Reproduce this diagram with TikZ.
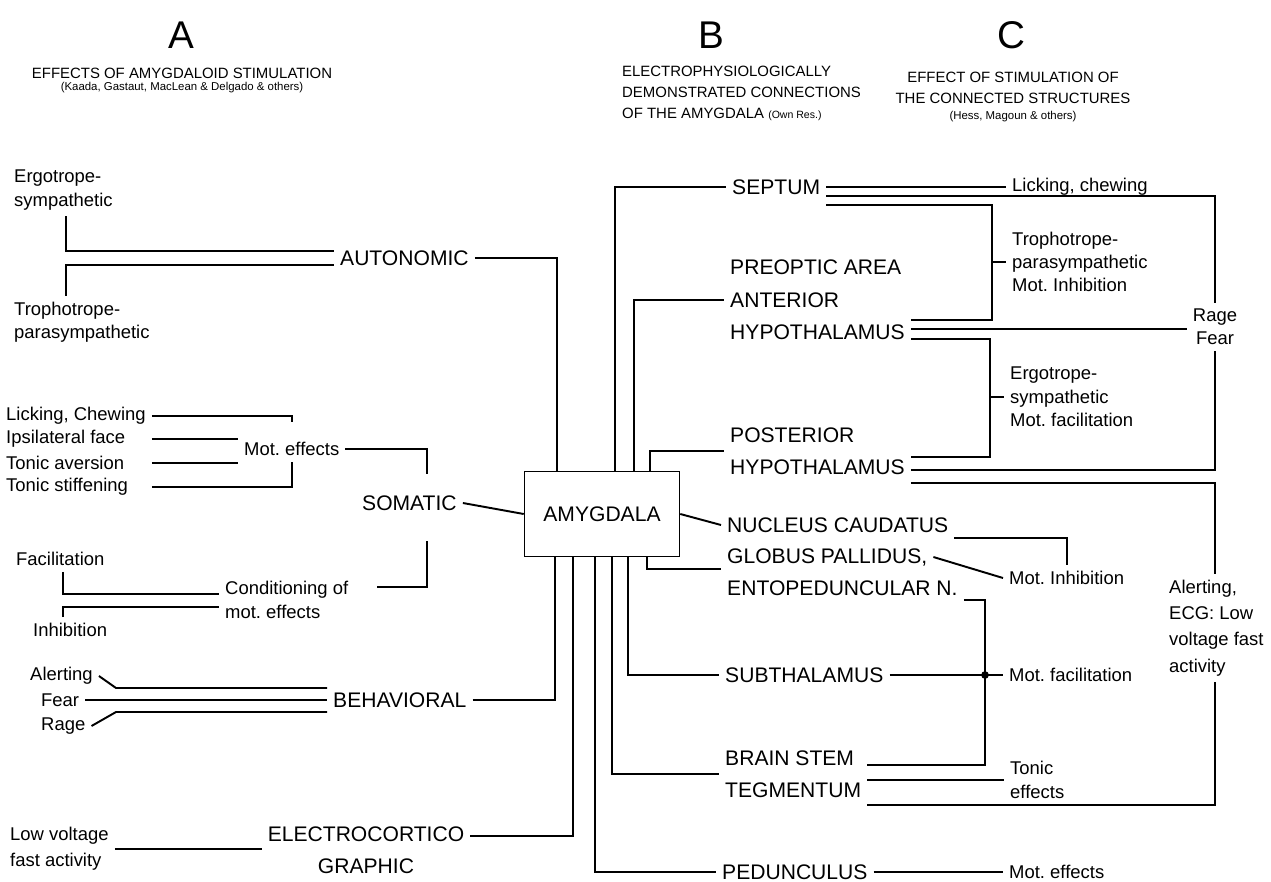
\documentclass[tikz,border=0pt]{standalone}
\usepackage{fontspec}
\setmainfont{Liberation Sans}
\usetikzlibrary{calc}
\frenchspacing

\begin{document}
\begin{tikzpicture}[x=0.02cm,y=-0.02cm,
  wire/.style={line width=1.1pt},
  lbl/.style={font=\fontsize{12}{18.5}\selectfont,align=left,anchor=west},
  note/.style={font=\fontsize{10.5}{13.3}\selectfont,align=left,anchor=west},
  head/.style={font=\fontsize{8.5}{11.9}\selectfont},
  letter/.style={font=\fontsize{22}{22}\selectfont},
  amyBox/.style={draw,line width=0.9pt,minimum width=3.1cm,minimum height=1.7cm,font=\fontsize{12}{14}\selectfont}]
\useasboundingbox (0,0) rectangle (1271,882);
\node[letter] (hdA) at (181,35) {A};
\node[head] (hdA1) at (182,73) {EFFECTS OF AMYGDALOID STIMULATION};
\node[head,font=\fontsize{6.5}{8}\selectfont] (hdA2) at (182,88) {(Kaada, Gastaut, MacLean \& Delgado \& others)};
\node[letter] (hdB) at (711,35) {B};
\node[head,align=left,anchor=west] (hdB1) at (616,93) {ELECTROPHYSIOLOGICALLY\\DEMONSTRATED CONNECTIONS\\OF THE AMYGDALA {\fontsize{6}{8}\selectfont (Own Res.)}};
\node[letter] (hdC) at (1011,35) {C};
\node[head,align=center] (hdC1) at (1013,97) {EFFECT OF STIMULATION OF\\THE CONNECTED STRUCTURES\\[-2.3pt]{\fontsize{6.5}{8}\selectfont (Hess, Magoun \& others)}};

\node[amyBox] (amy) at (602,514) {AMYGDALA};

\node[note] (ergoA) at (8,190) {Ergotrope-\\sympathetic};
\node[note] (trophA) at (8,322) {Trophotrope-\\parasympathetic};
\node[lbl] (auton) at (334,258) {AUTONOMIC};
\node[note] (lickA) at (0,416) {Licking, Chewing};
\node[note] (ipsiA) at (0,439) {Ipsilateral face};
\node[note] (avers) at (0,463) {Tonic aversion};
\node[note] (stiff) at (0,487) {Tonic stiffening};
\node[note] (motEffA) at (238,449) {Mot. effects};
\node[lbl] (somat) at (356,503) {SOMATIC};
\node[note] (facil) at (10,559) {Facilitation};
\node[note] (condit) at (219,600) {Conditioning of\\mot. effects};
\node[note] (inhib) at (27,630) {Inhibition};
\node[note] (alertA) at (24,676) {Alerting};
\node[note] (fearA) at (35,700) {Fear};
\node[note] (rageA) at (35,726) {Rage};
\node[lbl] (behav) at (327,700) {BEHAVIORAL};
\node[note,font=\fontsize{10.5}{15}\selectfont] (lowVolt) at (4,849) {Low voltage\\fast activity};
\node[lbl,align=center,anchor=center] (ecog) at (366,850) {ELECTROCORTICO\\GRAPHIC};
\coordinate (somTop) at (427,474);
\coordinate (somBot) at (427,541);
\coordinate (condEnd) at (377,587);

\node[lbl] (septum) at (726,187) {SEPTUM};
\node[lbl] (preopt) at (724,300) {PREOPTIC AREA\\ANTERIOR\\HYPOTHALAMUS};
\node[lbl] (postHyp) at (724,451) {POSTERIOR\\HYPOTHALAMUS};
\node[lbl] (caud) at (721,525) {NUCLEUS CAUDATUS};
\node[lbl] (pallid) at (721,557) {GLOBUS PALLIDUS,};
\node[lbl] (entoped) at (721,588) {ENTOPEDUNCULAR N.};
\node[lbl] (subth) at (719,675) {SUBTHALAMUS};
\node[lbl] (tegm) at (719,774) {BRAIN STEM\\TEGMENTUM};
\node[lbl] (pedunc) at (716,872) {PEDUNCULUS};

\node[note] (lickC) at (1006,187) {Licking, chewing};
\node[note] (trophC) at (1006,262) {Trophotrope-\\parasympathetic\\Mot. Inhibition};
\node[note,align=center,anchor=center] (rageC) at (1215,327) {Rage\\Fear};
\node[note] (ergoC) at (1004,397) {Ergotrope-\\sympathetic\\Mot. facilitation};
\node[note] (inhibC) at (1003,578) {Mot. Inhibition};
\node[note,font=\fontsize{10.5}{15}\selectfont] (alertC) at (1163,628) {Alerting,\\ECG: Low\\voltage fast\\activity};
\node[note] (facilC) at (1003,675) {Mot. facilitation};
\node[note] (tonicC) at (1004,780) {Tonic\\effects};
\node[note] (motEffC) at (1003,872) {Mot. effects};

\draw[wire] (ergoA.south -| 66,0) |- (auton.west |- 0,251);
\draw[wire] (trophA.north -| 66,0) |- (auton.west |- 0,265);
\draw[wire] (auton.east) -| (amy.north -| 557,0);
\draw[wire] (lickA.east) -- (lickA.east -| motEffA.north) -- ++(0,6);
\draw[wire] (lickA.east |- ipsiA.east) -- (motEffA.west |- ipsiA.east);
\draw[wire] (lickA.east |- avers.east) -- (motEffA.west |- avers.east);
\draw[wire] (lickA.east |- stiff.east) -| (motEffA.south);
\draw[wire] (motEffA.east) -| (somTop);
\draw[wire] (somBot) |- (condEnd);
\draw[wire] (somat.east) -- (amy.west);
\draw[wire] (facil.south -| 63,0) |- (condit.west |- 0,594);
\draw[wire] (inhib.north -| 63,0) |- (condit.west |- 0,607);
\draw[wire] (alertA.east) -- (116,688) -- (behav.west |- 0,688);
\draw[wire] (fearA.east) -- (behav.west);
\draw[wire] (rageA.east) -- (116,712) -- (behav.west |- 0,712);
\draw[wire] (behav.east) -| (amy.south -| 555,0);
\draw[wire] (lowVolt.east) -- (ecog.west |- lowVolt.east);
\draw[wire] (ecog.east |- 0,836) -| (amy.south -| 573,0);

\draw[wire] (amy.north -| 615,0) |- (septum.west);
\draw[wire] (amy.north -| 634,0) |- (preopt.west);
\draw[wire] (amy.north -| 650,0) |- (postHyp.west);
\draw[wire] (amy.east) -- (caud.west);
\draw[wire] (amy.south -| 647,0) |- ($(pallid.west)!.4!(entoped.west)$);
\draw[wire] (amy.south -| 628,0) |- (subth.west);
\draw[wire] (amy.south -| 612,0) |- (tegm.west);
\draw[wire] (amy.south -| 595,0) |- (pedunc.west);

\draw[wire] (septum.east) -- (lickC.west);
\draw[wire] (septum.east |- 0,196) -| (rageC.north);
\draw[wire] (septum.east |- 0,205) -| (992,320) -- (preopt.east |- 0,320);
\draw[wire] (trophC.west -| 992,0) -- (trophC.west);
\draw[wire] (preopt.east |- 0,329) -- (rageC.west |- 0,329);
\draw[wire] (preopt.east |- 0,339) -| (990,457) -- (postHyp.east |- 0,457);
\draw[wire] (ergoC.west -| 990,0) -- (ergoC.west);
\draw[wire] (postHyp.east |- 0,470) -| (rageC.south);
\draw[wire] (postHyp.east |- 0,483) -| (alertC.north -| rageC.north);
\draw[wire] (alertC.south -| rageC.south) |- (tegm.east |- 0,805);
\draw[wire] (caud.east |- 0,538) -| (inhibC.north);
\draw[wire] (pallid.east) -- (inhibC.west);
\draw[wire] ($(entoped.east)+(0,12)$) -| (985,765) -- (tegm.east |- 0,765);
\draw[wire] (subth.east) -- (facilC.west);
\fill (subth.east -| 985,0) circle[radius=2.2pt];
\draw[wire] (tegm.east |- tonicC.west) -- (tonicC.west);
\draw[wire] (pedunc.east) -- (motEffC.west);
\end{tikzpicture}
\end{document}
